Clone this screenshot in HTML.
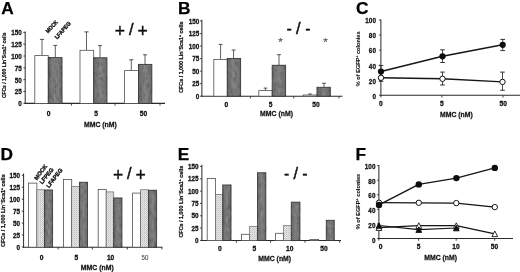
<!DOCTYPE html>
<html><head><meta charset="utf-8"><title>Figure</title>
<style>
html,body{margin:0;padding:0;background:#fff;}
svg{display:block;font-family:"Liberation Sans", Arial, sans-serif;}
</style></head>
<body>
<svg width="520" height="272" viewBox="0 0 520 272">
<defs>
<pattern id="dots" width="2" height="2" patternUnits="userSpaceOnUse"><rect width="2" height="2" fill="#e4e4e4"/><rect width="1" height="1" fill="#c0c0c0"/><rect x="1" y="1" width="1" height="1" fill="#d4d4d4"/></pattern>
<linearGradient id="dark" x1="0" x2="1" y1="0" y2="0"><stop offset="0" stop-color="#6e6e6e"/><stop offset="0.5" stop-color="#868686"/><stop offset="1" stop-color="#707070"/></linearGradient>
<filter id="soft" x="0" y="0" width="520" height="272" filterUnits="userSpaceOnUse"><feGaussianBlur stdDeviation="0.35"/></filter>
<filter id="mott" x="-5%" y="-5%" width="110%" height="110%"><feTurbulence type="fractalNoise" baseFrequency="0.35 0.18" numOctaves="2" seed="7" result="n"/><feColorMatrix in="n" type="matrix" values="0 0 0 0 0  0 0 0 0 0  0 0 0 0 0  0.8 0.8 0 0 -0.66" result="a"/><feFlood flood-color="#3a3a3a" result="f"/><feComposite in="f" in2="a" operator="in" result="spots"/><feComposite in="spots" in2="SourceAlpha" operator="in" result="sp2"/><feMerge><feMergeNode in="SourceGraphic"/><feMergeNode in="sp2"/></feMerge></filter>
</defs>
<rect width="520" height="272" fill="#fff"/>
<g filter="url(#soft)">
<text transform="translate(1.20 13.50)" font-size="17.3" text-anchor="start" font-weight="bold" fill="#050505" stroke="#050505" stroke-width="0.25">A</text>
<line x1="25.20" y1="31.50" x2="25.20" y2="103.90" stroke="#2a2a2a" stroke-width="1.0"/>
<line x1="23.40" y1="103.30" x2="25.20" y2="103.30" stroke="#2a2a2a" stroke-width="0.9"/>
<text transform="translate(21.80 106.28) scale(0.88 1)" font-size="7.2" text-anchor="end" font-weight="bold" fill="#141414" stroke="#141414" stroke-width="0.3">0</text>
<line x1="23.40" y1="91.48" x2="25.20" y2="91.48" stroke="#2a2a2a" stroke-width="0.9"/>
<text transform="translate(21.80 94.46) scale(0.88 1)" font-size="7.2" text-anchor="end" font-weight="bold" fill="#141414" stroke="#141414" stroke-width="0.3">25</text>
<line x1="23.40" y1="79.66" x2="25.20" y2="79.66" stroke="#2a2a2a" stroke-width="0.9"/>
<text transform="translate(21.80 82.64) scale(0.88 1)" font-size="7.2" text-anchor="end" font-weight="bold" fill="#141414" stroke="#141414" stroke-width="0.3">50</text>
<line x1="23.40" y1="67.85" x2="25.20" y2="67.85" stroke="#2a2a2a" stroke-width="0.9"/>
<text transform="translate(21.80 70.83) scale(0.88 1)" font-size="7.2" text-anchor="end" font-weight="bold" fill="#141414" stroke="#141414" stroke-width="0.3">75</text>
<line x1="23.40" y1="56.03" x2="25.20" y2="56.03" stroke="#2a2a2a" stroke-width="0.9"/>
<text transform="translate(21.80 59.01) scale(0.88 1)" font-size="7.2" text-anchor="end" font-weight="bold" fill="#141414" stroke="#141414" stroke-width="0.3">100</text>
<line x1="23.40" y1="44.21" x2="25.20" y2="44.21" stroke="#2a2a2a" stroke-width="0.9"/>
<text transform="translate(21.80 47.19) scale(0.88 1)" font-size="7.2" text-anchor="end" font-weight="bold" fill="#141414" stroke="#141414" stroke-width="0.3">125</text>
<line x1="23.40" y1="32.39" x2="25.20" y2="32.39" stroke="#2a2a2a" stroke-width="0.9"/>
<text transform="translate(21.80 35.37) scale(0.88 1)" font-size="7.2" text-anchor="end" font-weight="bold" fill="#141414" stroke="#141414" stroke-width="0.3">150</text>
<line x1="24.60" y1="103.40" x2="165.00" y2="103.40" stroke="#2a2a2a" stroke-width="1.1"/>
<line x1="71.40" y1="103.40" x2="71.40" y2="105.60" stroke="#2a2a2a" stroke-width="0.9"/>
<line x1="115.00" y1="103.40" x2="115.00" y2="105.60" stroke="#2a2a2a" stroke-width="0.9"/>
<line x1="160.00" y1="103.40" x2="160.00" y2="105.60" stroke="#2a2a2a" stroke-width="0.9"/>
<line x1="42.00" y1="39.40" x2="42.00" y2="55.60" stroke="#454545" stroke-width="0.85"/>
<line x1="39.90" y1="39.40" x2="44.10" y2="39.40" stroke="#454545" stroke-width="0.95"/>
<line x1="55.30" y1="45.40" x2="55.30" y2="57.60" stroke="#454545" stroke-width="0.85"/>
<line x1="53.40" y1="45.40" x2="57.20" y2="45.40" stroke="#454545" stroke-width="0.95"/>
<rect x="34.80" y="55.60" width="13.50" height="47.80" fill="#ffffff" stroke="#505050" stroke-width="0.8"/>
<rect x="48.30" y="57.60" width="13.70" height="45.80" fill="url(#dark)" stroke="#3c3c3c" stroke-width="0.9" filter="url(#mott)"/>
<line x1="86.50" y1="31.90" x2="86.50" y2="50.30" stroke="#454545" stroke-width="0.85"/>
<line x1="84.40" y1="31.90" x2="88.60" y2="31.90" stroke="#454545" stroke-width="0.95"/>
<line x1="100.00" y1="45.60" x2="100.00" y2="57.80" stroke="#454545" stroke-width="0.85"/>
<line x1="98.10" y1="45.60" x2="101.90" y2="45.60" stroke="#454545" stroke-width="0.95"/>
<rect x="80.00" y="50.30" width="13.70" height="53.10" fill="#ffffff" stroke="#505050" stroke-width="0.8"/>
<rect x="93.70" y="57.80" width="13.20" height="45.60" fill="url(#dark)" stroke="#3c3c3c" stroke-width="0.9" filter="url(#mott)"/>
<line x1="131.30" y1="59.80" x2="131.30" y2="70.60" stroke="#454545" stroke-width="0.85"/>
<line x1="129.20" y1="59.80" x2="133.40" y2="59.80" stroke="#454545" stroke-width="0.95"/>
<line x1="145.00" y1="54.80" x2="145.00" y2="64.40" stroke="#454545" stroke-width="0.85"/>
<line x1="143.10" y1="54.80" x2="146.90" y2="54.80" stroke="#454545" stroke-width="0.95"/>
<rect x="124.60" y="70.60" width="13.90" height="32.80" fill="#ffffff" stroke="#505050" stroke-width="0.8"/>
<rect x="138.50" y="64.40" width="13.30" height="39.00" fill="url(#dark)" stroke="#3c3c3c" stroke-width="0.9" filter="url(#mott)"/>
<text transform="translate(48.70 115.51) scale(0.95 1)" font-size="7.0" text-anchor="middle" font-weight="bold" fill="#141414" stroke="#141414" stroke-width="0.3">0</text>
<text transform="translate(96.00 115.51) scale(0.95 1)" font-size="7.0" text-anchor="middle" font-weight="bold" fill="#141414" stroke="#141414" stroke-width="0.3">5</text>
<text transform="translate(143.50 115.51) scale(0.95 1)" font-size="7.0" text-anchor="middle" font-weight="bold" fill="#141414" stroke="#141414" stroke-width="0.3">50</text>
<text transform="translate(100.40 126.50) scale(0.985 1)" font-size="7.0" text-anchor="middle" font-weight="bold" fill="#141414" stroke="#141414" stroke-width="0.25">MMC (nM)</text>
<text transform="translate(6.30 65.25) rotate(-90) scale(0.866 1)" font-size="5.7" text-anchor="middle" font-weight="bold" fill="#141414" stroke="#141414" stroke-width="0.25">CFCs / 1,000 Lin<tspan font-size="3.6" dy="-2.1">−</tspan><tspan dy="2.1">Sca1</tspan><tspan font-size="3.6" dy="-2.1">+</tspan><tspan dy="2.1"> cells</tspan></text>
<text transform="translate(48.00 33.60) rotate(-47) scale(0.87 1)" font-size="5.7" text-anchor="start" font-weight="bold" fill="#141414" stroke="#141414" stroke-width="0.35">MOCK</text>
<text transform="translate(57.20 39.60) rotate(-49) scale(0.93 1)" font-size="5.7" text-anchor="start" font-weight="bold" fill="#141414" stroke="#141414" stroke-width="0.35">LFAPEG</text>
<text transform="translate(120.00 37.05)" font-size="17.6" text-anchor="middle" font-weight="normal" fill="#0a0a0a" stroke="#0a0a0a" stroke-width="0.32">+</text>
<text transform="translate(131.40 35.47)" font-size="16.4" text-anchor="middle" font-weight="normal" fill="#0a0a0a" stroke="#0a0a0a" stroke-width="0.42">/</text>
<text transform="translate(142.60 37.05)" font-size="17.6" text-anchor="middle" font-weight="normal" fill="#0a0a0a" stroke="#0a0a0a" stroke-width="0.32">+</text>
<text transform="translate(178.10 13.50)" font-size="17.3" text-anchor="start" font-weight="bold" fill="#050505" stroke="#050505" stroke-width="0.25">B</text>
<line x1="201.90" y1="19.70" x2="201.90" y2="96.70" stroke="#2a2a2a" stroke-width="1.0"/>
<line x1="200.10" y1="96.20" x2="201.90" y2="96.20" stroke="#2a2a2a" stroke-width="0.9"/>
<text transform="translate(199.20 98.78) scale(0.88 1)" font-size="7.2" text-anchor="end" font-weight="bold" fill="#141414" stroke="#141414" stroke-width="0.3">0</text>
<line x1="200.10" y1="83.67" x2="201.90" y2="83.67" stroke="#2a2a2a" stroke-width="0.9"/>
<text transform="translate(199.20 86.25) scale(0.88 1)" font-size="7.2" text-anchor="end" font-weight="bold" fill="#141414" stroke="#141414" stroke-width="0.3">25</text>
<line x1="200.10" y1="71.14" x2="201.90" y2="71.14" stroke="#2a2a2a" stroke-width="0.9"/>
<text transform="translate(199.20 73.71) scale(0.88 1)" font-size="7.2" text-anchor="end" font-weight="bold" fill="#141414" stroke="#141414" stroke-width="0.3">50</text>
<line x1="200.10" y1="58.60" x2="201.90" y2="58.60" stroke="#2a2a2a" stroke-width="0.9"/>
<text transform="translate(199.20 61.18) scale(0.88 1)" font-size="7.2" text-anchor="end" font-weight="bold" fill="#141414" stroke="#141414" stroke-width="0.3">75</text>
<line x1="200.10" y1="46.07" x2="201.90" y2="46.07" stroke="#2a2a2a" stroke-width="0.9"/>
<text transform="translate(199.20 48.65) scale(0.88 1)" font-size="7.2" text-anchor="end" font-weight="bold" fill="#141414" stroke="#141414" stroke-width="0.3">100</text>
<line x1="200.10" y1="33.54" x2="201.90" y2="33.54" stroke="#2a2a2a" stroke-width="0.9"/>
<text transform="translate(199.20 36.12) scale(0.88 1)" font-size="7.2" text-anchor="end" font-weight="bold" fill="#141414" stroke="#141414" stroke-width="0.3">125</text>
<line x1="200.10" y1="21.01" x2="201.90" y2="21.01" stroke="#2a2a2a" stroke-width="0.9"/>
<text transform="translate(199.20 23.58) scale(0.88 1)" font-size="7.2" text-anchor="end" font-weight="bold" fill="#141414" stroke="#141414" stroke-width="0.3">150</text>
<line x1="201.30" y1="96.20" x2="342.50" y2="96.20" stroke="#2a2a2a" stroke-width="1.1"/>
<line x1="250.40" y1="96.20" x2="250.40" y2="98.40" stroke="#2a2a2a" stroke-width="0.9"/>
<line x1="293.80" y1="96.20" x2="293.80" y2="98.40" stroke="#2a2a2a" stroke-width="0.9"/>
<line x1="339.00" y1="96.20" x2="339.00" y2="98.40" stroke="#2a2a2a" stroke-width="0.9"/>
<line x1="220.60" y1="44.40" x2="220.60" y2="59.40" stroke="#454545" stroke-width="0.85"/>
<line x1="218.80" y1="44.40" x2="222.40" y2="44.40" stroke="#454545" stroke-width="0.95"/>
<line x1="233.60" y1="50.00" x2="233.60" y2="58.50" stroke="#454545" stroke-width="0.85"/>
<line x1="231.70" y1="50.00" x2="235.50" y2="50.00" stroke="#454545" stroke-width="0.95"/>
<rect x="213.80" y="59.40" width="13.50" height="36.80" fill="#ffffff" stroke="#505050" stroke-width="0.8"/>
<rect x="227.30" y="58.50" width="13.30" height="37.70" fill="url(#dark)" stroke="#3c3c3c" stroke-width="0.9" filter="url(#mott)"/>
<line x1="265.50" y1="88.10" x2="265.50" y2="90.60" stroke="#454545" stroke-width="0.85"/>
<line x1="263.70" y1="88.10" x2="267.30" y2="88.10" stroke="#454545" stroke-width="0.95"/>
<line x1="279.00" y1="54.70" x2="279.00" y2="65.30" stroke="#454545" stroke-width="0.85"/>
<line x1="277.10" y1="54.70" x2="280.90" y2="54.70" stroke="#454545" stroke-width="0.95"/>
<rect x="258.80" y="90.60" width="13.40" height="5.60" fill="#ffffff" stroke="#505050" stroke-width="0.8"/>
<rect x="272.20" y="65.30" width="13.40" height="30.90" fill="url(#dark)" stroke="#3c3c3c" stroke-width="0.9" filter="url(#mott)"/>
<line x1="310.00" y1="94.00" x2="310.00" y2="95.00" stroke="#454545" stroke-width="0.85"/>
<line x1="308.20" y1="94.00" x2="311.80" y2="94.00" stroke="#454545" stroke-width="0.95"/>
<line x1="324.00" y1="83.30" x2="324.00" y2="87.30" stroke="#454545" stroke-width="0.85"/>
<line x1="322.10" y1="83.30" x2="325.90" y2="83.30" stroke="#454545" stroke-width="0.95"/>
<rect x="303.20" y="95.00" width="13.80" height="1.20" fill="#ffffff" stroke="#505050" stroke-width="0.8"/>
<rect x="317.00" y="87.30" width="13.30" height="8.90" fill="url(#dark)" stroke="#3c3c3c" stroke-width="0.9" filter="url(#mott)"/>
<text transform="translate(226.30 106.71) scale(0.95 1)" font-size="7.0" text-anchor="middle" font-weight="bold" fill="#141414" stroke="#141414" stroke-width="0.3">0</text>
<text transform="translate(270.60 106.71) scale(0.95 1)" font-size="7.0" text-anchor="middle" font-weight="bold" fill="#141414" stroke="#141414" stroke-width="0.3">5</text>
<text transform="translate(316.00 106.71) scale(0.95 1)" font-size="7.0" text-anchor="middle" font-weight="bold" fill="#141414" stroke="#141414" stroke-width="0.3">50</text>
<text transform="translate(276.50 116.30) scale(0.985 1)" font-size="7.0" text-anchor="middle" font-weight="bold" fill="#141414" stroke="#141414" stroke-width="0.25">MMC (nM)</text>
<text transform="translate(183.10 57.20) rotate(-90) scale(0.942 1)" font-size="5.7" text-anchor="middle" font-weight="bold" fill="#141414" stroke="#141414" stroke-width="0.25">CFCs / 1,000 Lin<tspan font-size="3.6" dy="-2.1">−</tspan><tspan dy="2.1">Sca1</tspan><tspan font-size="3.6" dy="-2.1">+</tspan><tspan dy="2.1"> cells</tspan></text>
<text transform="translate(289.10 33.75)" font-size="16" text-anchor="middle" font-weight="normal" fill="#0a0a0a" stroke="#0a0a0a" stroke-width="0.3">-</text>
<text transform="translate(298.40 33.97)" font-size="16.4" text-anchor="middle" font-weight="normal" fill="#0a0a0a" stroke="#0a0a0a" stroke-width="0.42">/</text>
<text transform="translate(307.80 33.75)" font-size="16" text-anchor="middle" font-weight="normal" fill="#0a0a0a" stroke="#0a0a0a" stroke-width="0.3">-</text>
<text transform="translate(280.60 46.30)" font-size="11.5" text-anchor="middle" font-weight="normal" fill="#5a5a5a" stroke="#5a5a5a" stroke-width="0.2">*</text>
<text transform="translate(325.60 46.30)" font-size="11.5" text-anchor="middle" font-weight="normal" fill="#5a5a5a" stroke="#5a5a5a" stroke-width="0.2">*</text>
<text transform="translate(356.10 13.80)" font-size="17.3" text-anchor="start" font-weight="bold" fill="#050505" stroke="#050505" stroke-width="0.25">C</text>
<line x1="380.90" y1="19.50" x2="380.90" y2="97.30" stroke="#2a2a2a" stroke-width="1.0"/>
<line x1="379.10" y1="95.30" x2="380.90" y2="95.30" stroke="#2a2a2a" stroke-width="0.9"/>
<text transform="translate(375.90 98.83) scale(0.88 1)" font-size="7.2" text-anchor="end" font-weight="bold" fill="#141414" stroke="#141414" stroke-width="0.3">0</text>
<line x1="379.10" y1="80.25" x2="380.90" y2="80.25" stroke="#2a2a2a" stroke-width="0.9"/>
<text transform="translate(375.90 83.70) scale(0.88 1)" font-size="7.2" text-anchor="end" font-weight="bold" fill="#141414" stroke="#141414" stroke-width="0.3">20</text>
<line x1="379.10" y1="65.20" x2="380.90" y2="65.20" stroke="#2a2a2a" stroke-width="0.9"/>
<text transform="translate(375.90 68.57) scale(0.88 1)" font-size="7.2" text-anchor="end" font-weight="bold" fill="#141414" stroke="#141414" stroke-width="0.3">40</text>
<line x1="379.10" y1="50.15" x2="380.90" y2="50.15" stroke="#2a2a2a" stroke-width="0.9"/>
<text transform="translate(375.90 53.44) scale(0.88 1)" font-size="7.2" text-anchor="end" font-weight="bold" fill="#141414" stroke="#141414" stroke-width="0.3">60</text>
<line x1="379.10" y1="35.10" x2="380.90" y2="35.10" stroke="#2a2a2a" stroke-width="0.9"/>
<text transform="translate(375.90 38.31) scale(0.88 1)" font-size="7.2" text-anchor="end" font-weight="bold" fill="#141414" stroke="#141414" stroke-width="0.3">80</text>
<line x1="379.10" y1="20.05" x2="380.90" y2="20.05" stroke="#2a2a2a" stroke-width="0.9"/>
<text transform="translate(375.90 23.18) scale(0.88 1)" font-size="7.2" text-anchor="end" font-weight="bold" fill="#141414" stroke="#141414" stroke-width="0.3">100</text>
<line x1="380.30" y1="95.30" x2="520.00" y2="95.30" stroke="#2a2a2a" stroke-width="1.1"/>
<line x1="441.90" y1="95.30" x2="441.90" y2="97.50" stroke="#2a2a2a" stroke-width="0.9"/>
<line x1="503.00" y1="95.30" x2="503.00" y2="97.50" stroke="#2a2a2a" stroke-width="0.9"/>
<polyline fill="none" stroke="#151515" stroke-width="1.4" stroke-linejoin="round" points="381.0,71.5 442.5,56.3 502.7,44.8"/>
<polyline fill="none" stroke="#151515" stroke-width="1.4" stroke-linejoin="round" points="381.0,77.8 442.5,78.8 502.5,81.9"/>
<line x1="381.00" y1="65.60" x2="381.00" y2="77.00" stroke="#333" stroke-width="0.9"/>
<line x1="378.70" y1="65.60" x2="383.30" y2="65.60" stroke="#333" stroke-width="1"/>
<line x1="378.70" y1="77.00" x2="383.30" y2="77.00" stroke="#333" stroke-width="1"/>
<line x1="442.50" y1="49.80" x2="442.50" y2="62.50" stroke="#333" stroke-width="0.9"/>
<line x1="440.20" y1="49.80" x2="444.80" y2="49.80" stroke="#333" stroke-width="1"/>
<line x1="440.20" y1="62.50" x2="444.80" y2="62.50" stroke="#333" stroke-width="1"/>
<line x1="502.70" y1="39.40" x2="502.70" y2="50.60" stroke="#333" stroke-width="0.9"/>
<line x1="500.40" y1="39.40" x2="505.00" y2="39.40" stroke="#333" stroke-width="1"/>
<line x1="500.40" y1="50.60" x2="505.00" y2="50.60" stroke="#333" stroke-width="1"/>
<line x1="381.00" y1="72.00" x2="381.00" y2="81.30" stroke="#333" stroke-width="0.9"/>
<line x1="378.70" y1="72.00" x2="383.30" y2="72.00" stroke="#333" stroke-width="1"/>
<line x1="378.70" y1="81.30" x2="383.30" y2="81.30" stroke="#333" stroke-width="1"/>
<line x1="442.50" y1="72.10" x2="442.50" y2="85.00" stroke="#333" stroke-width="0.9"/>
<line x1="440.20" y1="72.10" x2="444.80" y2="72.10" stroke="#333" stroke-width="1"/>
<line x1="440.20" y1="85.00" x2="444.80" y2="85.00" stroke="#333" stroke-width="1"/>
<line x1="502.50" y1="72.10" x2="502.50" y2="90.30" stroke="#333" stroke-width="0.9"/>
<line x1="500.20" y1="72.10" x2="504.80" y2="72.10" stroke="#333" stroke-width="1"/>
<line x1="500.20" y1="90.30" x2="504.80" y2="90.30" stroke="#333" stroke-width="1"/>
<circle cx="381" cy="77.8" r="2.7" fill="#fff" stroke="#151515" stroke-width="1"/>
<circle cx="442.5" cy="78.8" r="2.7" fill="#fff" stroke="#151515" stroke-width="1"/>
<circle cx="502.5" cy="81.9" r="2.7" fill="#fff" stroke="#151515" stroke-width="1"/>
<circle cx="381" cy="71.5" r="3.1" fill="#0c0c0c"/>
<circle cx="442.5" cy="56.3" r="3.1" fill="#0c0c0c"/>
<circle cx="502.7" cy="44.8" r="3.1" fill="#0c0c0c"/>
<text transform="translate(380.90 105.91) scale(0.95 1)" font-size="7.0" text-anchor="middle" font-weight="bold" fill="#141414" stroke="#141414" stroke-width="0.3">0</text>
<text transform="translate(441.80 105.91) scale(0.95 1)" font-size="7.0" text-anchor="middle" font-weight="bold" fill="#141414" stroke="#141414" stroke-width="0.3">5</text>
<text transform="translate(503.20 105.91) scale(0.95 1)" font-size="7.0" text-anchor="middle" font-weight="bold" fill="#141414" stroke="#141414" stroke-width="0.3">50</text>
<text transform="translate(456.40 117.40) scale(0.985 1)" font-size="7.0" text-anchor="middle" font-weight="bold" fill="#141414" stroke="#141414" stroke-width="0.25">MMC (nM)</text>
<text transform="translate(360.40 58.80) rotate(-90) scale(0.981 1)" font-size="5.7" text-anchor="middle" font-weight="bold" fill="#141414" stroke="#141414" stroke-width="0.1">% of EGFP<tspan font-size="3.6" dy="-2.1">+</tspan><tspan dy="2.1"> colonies</tspan></text>
<text transform="translate(0.50 160.00)" font-size="17.3" text-anchor="start" font-weight="bold" fill="#050505" stroke="#050505" stroke-width="0.25">D</text>
<line x1="23.60" y1="173.50" x2="23.60" y2="247.70" stroke="#2a2a2a" stroke-width="1.0"/>
<line x1="21.80" y1="247.00" x2="23.60" y2="247.00" stroke="#2a2a2a" stroke-width="0.9"/>
<text transform="translate(20.00 249.58) scale(0.88 1)" font-size="7.2" text-anchor="end" font-weight="bold" fill="#141414" stroke="#141414" stroke-width="0.3">0</text>
<line x1="21.80" y1="235.05" x2="23.60" y2="235.05" stroke="#2a2a2a" stroke-width="0.9"/>
<text transform="translate(20.00 237.63) scale(0.88 1)" font-size="7.2" text-anchor="end" font-weight="bold" fill="#141414" stroke="#141414" stroke-width="0.3">25</text>
<line x1="21.80" y1="223.10" x2="23.60" y2="223.10" stroke="#2a2a2a" stroke-width="0.9"/>
<text transform="translate(20.00 225.68) scale(0.88 1)" font-size="7.2" text-anchor="end" font-weight="bold" fill="#141414" stroke="#141414" stroke-width="0.3">50</text>
<line x1="21.80" y1="211.15" x2="23.60" y2="211.15" stroke="#2a2a2a" stroke-width="0.9"/>
<text transform="translate(20.00 213.73) scale(0.88 1)" font-size="7.2" text-anchor="end" font-weight="bold" fill="#141414" stroke="#141414" stroke-width="0.3">75</text>
<line x1="21.80" y1="199.20" x2="23.60" y2="199.20" stroke="#2a2a2a" stroke-width="0.9"/>
<text transform="translate(20.00 201.78) scale(0.88 1)" font-size="7.2" text-anchor="end" font-weight="bold" fill="#141414" stroke="#141414" stroke-width="0.3">100</text>
<line x1="21.80" y1="187.25" x2="23.60" y2="187.25" stroke="#2a2a2a" stroke-width="0.9"/>
<text transform="translate(20.00 189.83) scale(0.88 1)" font-size="7.2" text-anchor="end" font-weight="bold" fill="#141414" stroke="#141414" stroke-width="0.3">125</text>
<line x1="21.80" y1="175.30" x2="23.60" y2="175.30" stroke="#2a2a2a" stroke-width="0.9"/>
<text transform="translate(20.00 177.88) scale(0.88 1)" font-size="7.2" text-anchor="end" font-weight="bold" fill="#141414" stroke="#141414" stroke-width="0.3">150</text>
<line x1="23.00" y1="247.20" x2="162.30" y2="247.20" stroke="#2a2a2a" stroke-width="1.1"/>
<line x1="58.10" y1="247.20" x2="58.10" y2="249.40" stroke="#2a2a2a" stroke-width="0.9"/>
<line x1="92.30" y1="247.20" x2="92.30" y2="249.40" stroke="#2a2a2a" stroke-width="0.9"/>
<line x1="127.30" y1="247.20" x2="127.30" y2="249.40" stroke="#2a2a2a" stroke-width="0.9"/>
<line x1="161.90" y1="247.20" x2="161.90" y2="249.40" stroke="#2a2a2a" stroke-width="0.9"/>
<rect x="28.50" y="183.10" width="8.40" height="64.10" fill="#ffffff" stroke="#505050" stroke-width="0.8"/>
<rect x="36.90" y="189.80" width="7.50" height="57.40" fill="url(#dots)" stroke="#555" stroke-width="0.6"/>
<rect x="44.40" y="190.00" width="8.20" height="57.20" fill="url(#dark)" stroke="#3c3c3c" stroke-width="0.9" filter="url(#mott)"/>
<rect x="63.50" y="179.40" width="8.20" height="67.80" fill="#ffffff" stroke="#505050" stroke-width="0.8"/>
<rect x="71.70" y="186.50" width="7.80" height="60.70" fill="url(#dots)" stroke="#555" stroke-width="0.6"/>
<rect x="79.50" y="182.30" width="8.00" height="64.90" fill="url(#dark)" stroke="#3c3c3c" stroke-width="0.9" filter="url(#mott)"/>
<rect x="98.20" y="189.40" width="8.00" height="57.80" fill="#ffffff" stroke="#505050" stroke-width="0.8"/>
<rect x="106.20" y="191.90" width="7.60" height="55.30" fill="url(#dots)" stroke="#555" stroke-width="0.6"/>
<rect x="113.80" y="198.00" width="8.10" height="49.20" fill="url(#dark)" stroke="#3c3c3c" stroke-width="0.9" filter="url(#mott)"/>
<rect x="132.60" y="193.10" width="8.00" height="54.10" fill="#ffffff" stroke="#505050" stroke-width="0.8"/>
<rect x="140.60" y="189.80" width="7.80" height="57.40" fill="url(#dots)" stroke="#555" stroke-width="0.6"/>
<rect x="148.40" y="190.30" width="8.20" height="56.90" fill="url(#dark)" stroke="#3c3c3c" stroke-width="0.9" filter="url(#mott)"/>
<text transform="translate(41.50 259.91) scale(0.95 1)" font-size="7.0" text-anchor="middle" font-weight="bold" fill="#141414" stroke="#141414" stroke-width="0.3">0</text>
<text transform="translate(76.30 259.91) scale(0.95 1)" font-size="7.0" text-anchor="middle" font-weight="bold" fill="#141414" stroke="#141414" stroke-width="0.3">5</text>
<text transform="translate(110.60 259.91) scale(0.95 1)" font-size="7.0" text-anchor="middle" font-weight="bold" fill="#141414" stroke="#141414" stroke-width="0.3">10</text>
<text transform="translate(145.00 259.73) scale(0.95 1)" font-size="6.5" text-anchor="middle" font-weight="normal" fill="#4a4a4a" stroke="#4a4a4a" stroke-width="0.1">50</text>
<text transform="translate(97.30 269.90) scale(0.985 1)" font-size="7.0" text-anchor="middle" font-weight="bold" fill="#141414" stroke="#141414" stroke-width="0.25">MMC (nM)</text>
<text transform="translate(5.10 210.65) rotate(-90) scale(0.959 1)" font-size="5.7" text-anchor="middle" font-weight="bold" fill="#141414" stroke="#141414" stroke-width="0.25">CFCs / 1,000 Lin<tspan font-size="3.6" dy="-2.1">−</tspan><tspan dy="2.1">Sca1</tspan><tspan font-size="3.6" dy="-2.1">+</tspan><tspan dy="2.1"> cells</tspan></text>
<text transform="translate(37.00 180.40) rotate(-53)" font-size="5.7" text-anchor="start" font-weight="bold" fill="#141414" stroke="#141414" stroke-width="0.35">MOCK</text>
<text transform="translate(42.20 184.60) rotate(-52)" font-size="5.7" text-anchor="start" font-weight="bold" fill="#141414" stroke="#141414" stroke-width="0.35">LFPEG</text>
<text transform="translate(49.00 188.20) rotate(-52.5)" font-size="5.7" text-anchor="start" font-weight="bold" fill="#141414" stroke="#141414" stroke-width="0.35">LFAPEG</text>
<text transform="translate(118.10 181.05)" font-size="17.6" text-anchor="middle" font-weight="normal" fill="#0a0a0a" stroke="#0a0a0a" stroke-width="0.32">+</text>
<text transform="translate(129.40 179.27)" font-size="16.4" text-anchor="middle" font-weight="normal" fill="#0a0a0a" stroke="#0a0a0a" stroke-width="0.42">/</text>
<text transform="translate(140.60 181.05)" font-size="17.6" text-anchor="middle" font-weight="normal" fill="#0a0a0a" stroke="#0a0a0a" stroke-width="0.32">+</text>
<text transform="translate(177.70 159.60)" font-size="17.3" text-anchor="start" font-weight="bold" fill="#050505" stroke="#050505" stroke-width="0.25">E</text>
<line x1="201.90" y1="164.70" x2="201.90" y2="241.00" stroke="#2a2a2a" stroke-width="1.0"/>
<line x1="200.10" y1="240.40" x2="201.90" y2="240.40" stroke="#2a2a2a" stroke-width="0.9"/>
<text transform="translate(198.60 242.98) scale(0.88 1)" font-size="7.2" text-anchor="end" font-weight="bold" fill="#141414" stroke="#141414" stroke-width="0.3">0</text>
<line x1="200.10" y1="228.08" x2="201.90" y2="228.08" stroke="#2a2a2a" stroke-width="0.9"/>
<text transform="translate(198.60 230.66) scale(0.88 1)" font-size="7.2" text-anchor="end" font-weight="bold" fill="#141414" stroke="#141414" stroke-width="0.3">25</text>
<line x1="200.10" y1="215.77" x2="201.90" y2="215.77" stroke="#2a2a2a" stroke-width="0.9"/>
<text transform="translate(198.60 218.34) scale(0.88 1)" font-size="7.2" text-anchor="end" font-weight="bold" fill="#141414" stroke="#141414" stroke-width="0.3">50</text>
<line x1="200.10" y1="203.45" x2="201.90" y2="203.45" stroke="#2a2a2a" stroke-width="0.9"/>
<text transform="translate(198.60 206.03) scale(0.88 1)" font-size="7.2" text-anchor="end" font-weight="bold" fill="#141414" stroke="#141414" stroke-width="0.3">75</text>
<line x1="200.10" y1="191.13" x2="201.90" y2="191.13" stroke="#2a2a2a" stroke-width="0.9"/>
<text transform="translate(198.60 193.71) scale(0.88 1)" font-size="7.2" text-anchor="end" font-weight="bold" fill="#141414" stroke="#141414" stroke-width="0.3">100</text>
<line x1="200.10" y1="178.81" x2="201.90" y2="178.81" stroke="#2a2a2a" stroke-width="0.9"/>
<text transform="translate(198.60 181.39) scale(0.88 1)" font-size="7.2" text-anchor="end" font-weight="bold" fill="#141414" stroke="#141414" stroke-width="0.3">125</text>
<line x1="200.10" y1="166.50" x2="201.90" y2="166.50" stroke="#2a2a2a" stroke-width="0.9"/>
<text transform="translate(198.60 169.07) scale(0.88 1)" font-size="7.2" text-anchor="end" font-weight="bold" fill="#141414" stroke="#141414" stroke-width="0.3">150</text>
<line x1="201.30" y1="240.50" x2="341.00" y2="240.50" stroke="#2a2a2a" stroke-width="1.1"/>
<line x1="236.40" y1="240.50" x2="236.40" y2="242.70" stroke="#2a2a2a" stroke-width="0.9"/>
<line x1="270.60" y1="240.50" x2="270.60" y2="242.70" stroke="#2a2a2a" stroke-width="0.9"/>
<line x1="305.00" y1="240.50" x2="305.00" y2="242.70" stroke="#2a2a2a" stroke-width="0.9"/>
<line x1="339.70" y1="240.50" x2="339.70" y2="242.70" stroke="#2a2a2a" stroke-width="0.9"/>
<rect x="207.20" y="178.50" width="8.20" height="62.00" fill="#ffffff" stroke="#505050" stroke-width="0.8"/>
<rect x="215.40" y="194.40" width="7.40" height="46.10" fill="url(#dots)" stroke="#555" stroke-width="0.6"/>
<rect x="222.80" y="185.00" width="8.20" height="55.50" fill="url(#dark)" stroke="#3c3c3c" stroke-width="0.9" filter="url(#mott)"/>
<rect x="241.40" y="234.30" width="8.30" height="6.20" fill="#ffffff" stroke="#505050" stroke-width="0.8"/>
<rect x="249.70" y="226.50" width="7.80" height="14.00" fill="url(#dots)" stroke="#555" stroke-width="0.6"/>
<rect x="257.50" y="172.80" width="8.30" height="67.70" fill="url(#dark)" stroke="#3c3c3c" stroke-width="0.9" filter="url(#mott)"/>
<rect x="275.60" y="233.30" width="8.10" height="7.20" fill="#ffffff" stroke="#505050" stroke-width="0.8"/>
<rect x="283.70" y="225.60" width="7.60" height="14.90" fill="url(#dots)" stroke="#555" stroke-width="0.6"/>
<rect x="291.30" y="202.20" width="8.60" height="38.30" fill="url(#dark)" stroke="#3c3c3c" stroke-width="0.9" filter="url(#mott)"/>
<rect x="310.00" y="239.50" width="8.60" height="1.00" fill="#ffffff" stroke="#505050" stroke-width="0.8"/>
<rect x="326.30" y="220.30" width="7.90" height="20.20" fill="url(#dark)" stroke="#3c3c3c" stroke-width="0.9" filter="url(#mott)"/>
<text transform="translate(219.80 251.01) scale(0.95 1)" font-size="7.0" text-anchor="middle" font-weight="bold" fill="#141414" stroke="#141414" stroke-width="0.3">0</text>
<text transform="translate(254.40 251.01) scale(0.95 1)" font-size="7.0" text-anchor="middle" font-weight="bold" fill="#141414" stroke="#141414" stroke-width="0.3">5</text>
<text transform="translate(289.70 251.01) scale(0.95 1)" font-size="7.0" text-anchor="middle" font-weight="bold" fill="#141414" stroke="#141414" stroke-width="0.3">10</text>
<text transform="translate(324.00 251.01) scale(0.95 1)" font-size="7.0" text-anchor="middle" font-weight="bold" fill="#141414" stroke="#141414" stroke-width="0.3">50</text>
<text transform="translate(274.70 260.80) scale(0.985 1)" font-size="7.0" text-anchor="middle" font-weight="bold" fill="#141414" stroke="#141414" stroke-width="0.25">MMC (nM)</text>
<text transform="translate(183.20 201.60) rotate(-90) scale(0.949 1)" font-size="5.7" text-anchor="middle" font-weight="bold" fill="#141414" stroke="#141414" stroke-width="0.25">CFCs / 1,000 Lin<tspan font-size="3.6" dy="-2.1">−</tspan><tspan dy="2.1">Sca1</tspan><tspan font-size="3.6" dy="-2.1">+</tspan><tspan dy="2.1"> cells</tspan></text>
<text transform="translate(286.60 178.75)" font-size="16" text-anchor="middle" font-weight="normal" fill="#0a0a0a" stroke="#0a0a0a" stroke-width="0.3">-</text>
<text transform="translate(295.80 178.67)" font-size="16.4" text-anchor="middle" font-weight="normal" fill="#0a0a0a" stroke="#0a0a0a" stroke-width="0.42">/</text>
<text transform="translate(305.00 178.75)" font-size="16" text-anchor="middle" font-weight="normal" fill="#0a0a0a" stroke="#0a0a0a" stroke-width="0.3">-</text>
<text transform="translate(355.50 160.00)" font-size="17.3" text-anchor="start" font-weight="bold" fill="#050505" stroke="#050505" stroke-width="0.25">F</text>
<line x1="378.90" y1="165.00" x2="378.90" y2="240.50" stroke="#2a2a2a" stroke-width="1.0"/>
<line x1="377.10" y1="238.50" x2="378.90" y2="238.50" stroke="#2a2a2a" stroke-width="0.9"/>
<text transform="translate(375.40 242.58) scale(0.88 1)" font-size="7.2" text-anchor="end" font-weight="bold" fill="#141414" stroke="#141414" stroke-width="0.3">0</text>
<line x1="377.10" y1="223.92" x2="378.90" y2="223.92" stroke="#2a2a2a" stroke-width="0.9"/>
<text transform="translate(375.40 227.88) scale(0.88 1)" font-size="7.2" text-anchor="end" font-weight="bold" fill="#141414" stroke="#141414" stroke-width="0.3">20</text>
<line x1="377.10" y1="209.34" x2="378.90" y2="209.34" stroke="#2a2a2a" stroke-width="0.9"/>
<text transform="translate(375.40 213.18) scale(0.88 1)" font-size="7.2" text-anchor="end" font-weight="bold" fill="#141414" stroke="#141414" stroke-width="0.3">40</text>
<line x1="377.10" y1="194.76" x2="378.90" y2="194.76" stroke="#2a2a2a" stroke-width="0.9"/>
<text transform="translate(375.40 198.48) scale(0.88 1)" font-size="7.2" text-anchor="end" font-weight="bold" fill="#141414" stroke="#141414" stroke-width="0.3">60</text>
<line x1="377.10" y1="180.18" x2="378.90" y2="180.18" stroke="#2a2a2a" stroke-width="0.9"/>
<text transform="translate(375.40 183.78) scale(0.88 1)" font-size="7.2" text-anchor="end" font-weight="bold" fill="#141414" stroke="#141414" stroke-width="0.3">80</text>
<line x1="377.10" y1="165.60" x2="378.90" y2="165.60" stroke="#2a2a2a" stroke-width="0.9"/>
<text transform="translate(375.40 169.08) scale(0.88 1)" font-size="7.2" text-anchor="end" font-weight="bold" fill="#141414" stroke="#141414" stroke-width="0.3">100</text>
<line x1="378.30" y1="238.50" x2="513.00" y2="238.50" stroke="#2a2a2a" stroke-width="1.1"/>
<line x1="418.60" y1="238.50" x2="418.60" y2="240.70" stroke="#2a2a2a" stroke-width="0.9"/>
<line x1="456.20" y1="238.50" x2="456.20" y2="240.70" stroke="#2a2a2a" stroke-width="0.9"/>
<line x1="494.70" y1="238.50" x2="494.70" y2="240.70" stroke="#2a2a2a" stroke-width="0.9"/>
<polyline fill="none" stroke="#151515" stroke-width="1.4" stroke-linejoin="round" points="379.0,204.9 418.8,184.4 456.4,178.1 494.8,167.9"/>
<polyline fill="none" stroke="#151515" stroke-width="1.3" stroke-linejoin="round" points="379.0,202.7 418.8,202.8 456.3,203.1 494.8,207.1"/>
<polyline fill="none" stroke="#151515" stroke-width="1.25" stroke-linejoin="round" points="379.0,227.6 418.8,225.6 456.3,225.6 494.8,233.8"/>
<polyline fill="none" stroke="#151515" stroke-width="1.1" stroke-linejoin="round" points="379.0,225.5 418.8,229.6 456.3,228.0 458.5,226.3"/>
<polygon points="379,224.8 376.1,230.4 381.9,230.4" fill="#fff" stroke="#151515" stroke-width="0.9" stroke-linejoin="miter"/>
<polygon points="418.8,222.8 415.90000000000003,228.4 421.7,228.4" fill="#fff" stroke="#151515" stroke-width="0.9" stroke-linejoin="miter"/>
<polygon points="456.3,222.8 453.40000000000003,228.4 459.2,228.4" fill="#fff" stroke="#151515" stroke-width="0.9" stroke-linejoin="miter"/>
<polygon points="379,222.7 376.1,228.3 381.9,228.3" fill="#0c0c0c" stroke="#151515" stroke-width="0.9" stroke-linejoin="miter"/>
<polygon points="418.8,226.8 415.90000000000003,232.4 421.7,232.4" fill="#0c0c0c" stroke="#151515" stroke-width="0.9" stroke-linejoin="miter"/>
<polygon points="456.3,225.2 453.40000000000003,230.8 459.2,230.8" fill="#0c0c0c" stroke="#151515" stroke-width="0.9" stroke-linejoin="miter"/>
<polygon points="494.8,231.0 491.90000000000003,236.6 497.7,236.6" fill="#fff" stroke="#151515" stroke-width="0.9" stroke-linejoin="miter"/>
<circle cx="379" cy="202.7" r="2.7" fill="#fff" stroke="#151515" stroke-width="1"/>
<circle cx="418.8" cy="202.8" r="2.7" fill="#fff" stroke="#151515" stroke-width="1"/>
<circle cx="456.3" cy="203.1" r="2.7" fill="#fff" stroke="#151515" stroke-width="1"/>
<circle cx="494.8" cy="207.1" r="2.7" fill="#fff" stroke="#151515" stroke-width="1"/>
<circle cx="379" cy="204.9" r="3.2" fill="#0c0c0c"/>
<circle cx="418.8" cy="184.4" r="3.2" fill="#0c0c0c"/>
<circle cx="456.4" cy="178.1" r="3.2" fill="#0c0c0c"/>
<circle cx="494.8" cy="167.9" r="3.2" fill="#0c0c0c"/>
<text transform="translate(380.60 249.11) scale(0.95 1)" font-size="7.0" text-anchor="middle" font-weight="bold" fill="#141414" stroke="#141414" stroke-width="0.3">0</text>
<text transform="translate(418.60 249.11) scale(0.95 1)" font-size="7.0" text-anchor="middle" font-weight="bold" fill="#141414" stroke="#141414" stroke-width="0.3">5</text>
<text transform="translate(456.00 249.11) scale(0.95 1)" font-size="7.0" text-anchor="middle" font-weight="bold" fill="#141414" stroke="#141414" stroke-width="0.3">10</text>
<text transform="translate(494.40 249.11) scale(0.95 1)" font-size="7.0" text-anchor="middle" font-weight="bold" fill="#141414" stroke="#141414" stroke-width="0.3">50</text>
<text transform="translate(440.60 260.30) scale(0.985 1)" font-size="7.0" text-anchor="middle" font-weight="bold" fill="#141414" stroke="#141414" stroke-width="0.25">MMC (nM)</text>
<text transform="translate(360.40 201.57) rotate(-90) scale(0.996 1)" font-size="5.7" text-anchor="middle" font-weight="bold" fill="#141414" stroke="#141414" stroke-width="0.1">% of EGFP<tspan font-size="3.6" dy="-2.1">+</tspan><tspan dy="2.1"> colonies</tspan></text>
</g>
</svg>
</body></html>
